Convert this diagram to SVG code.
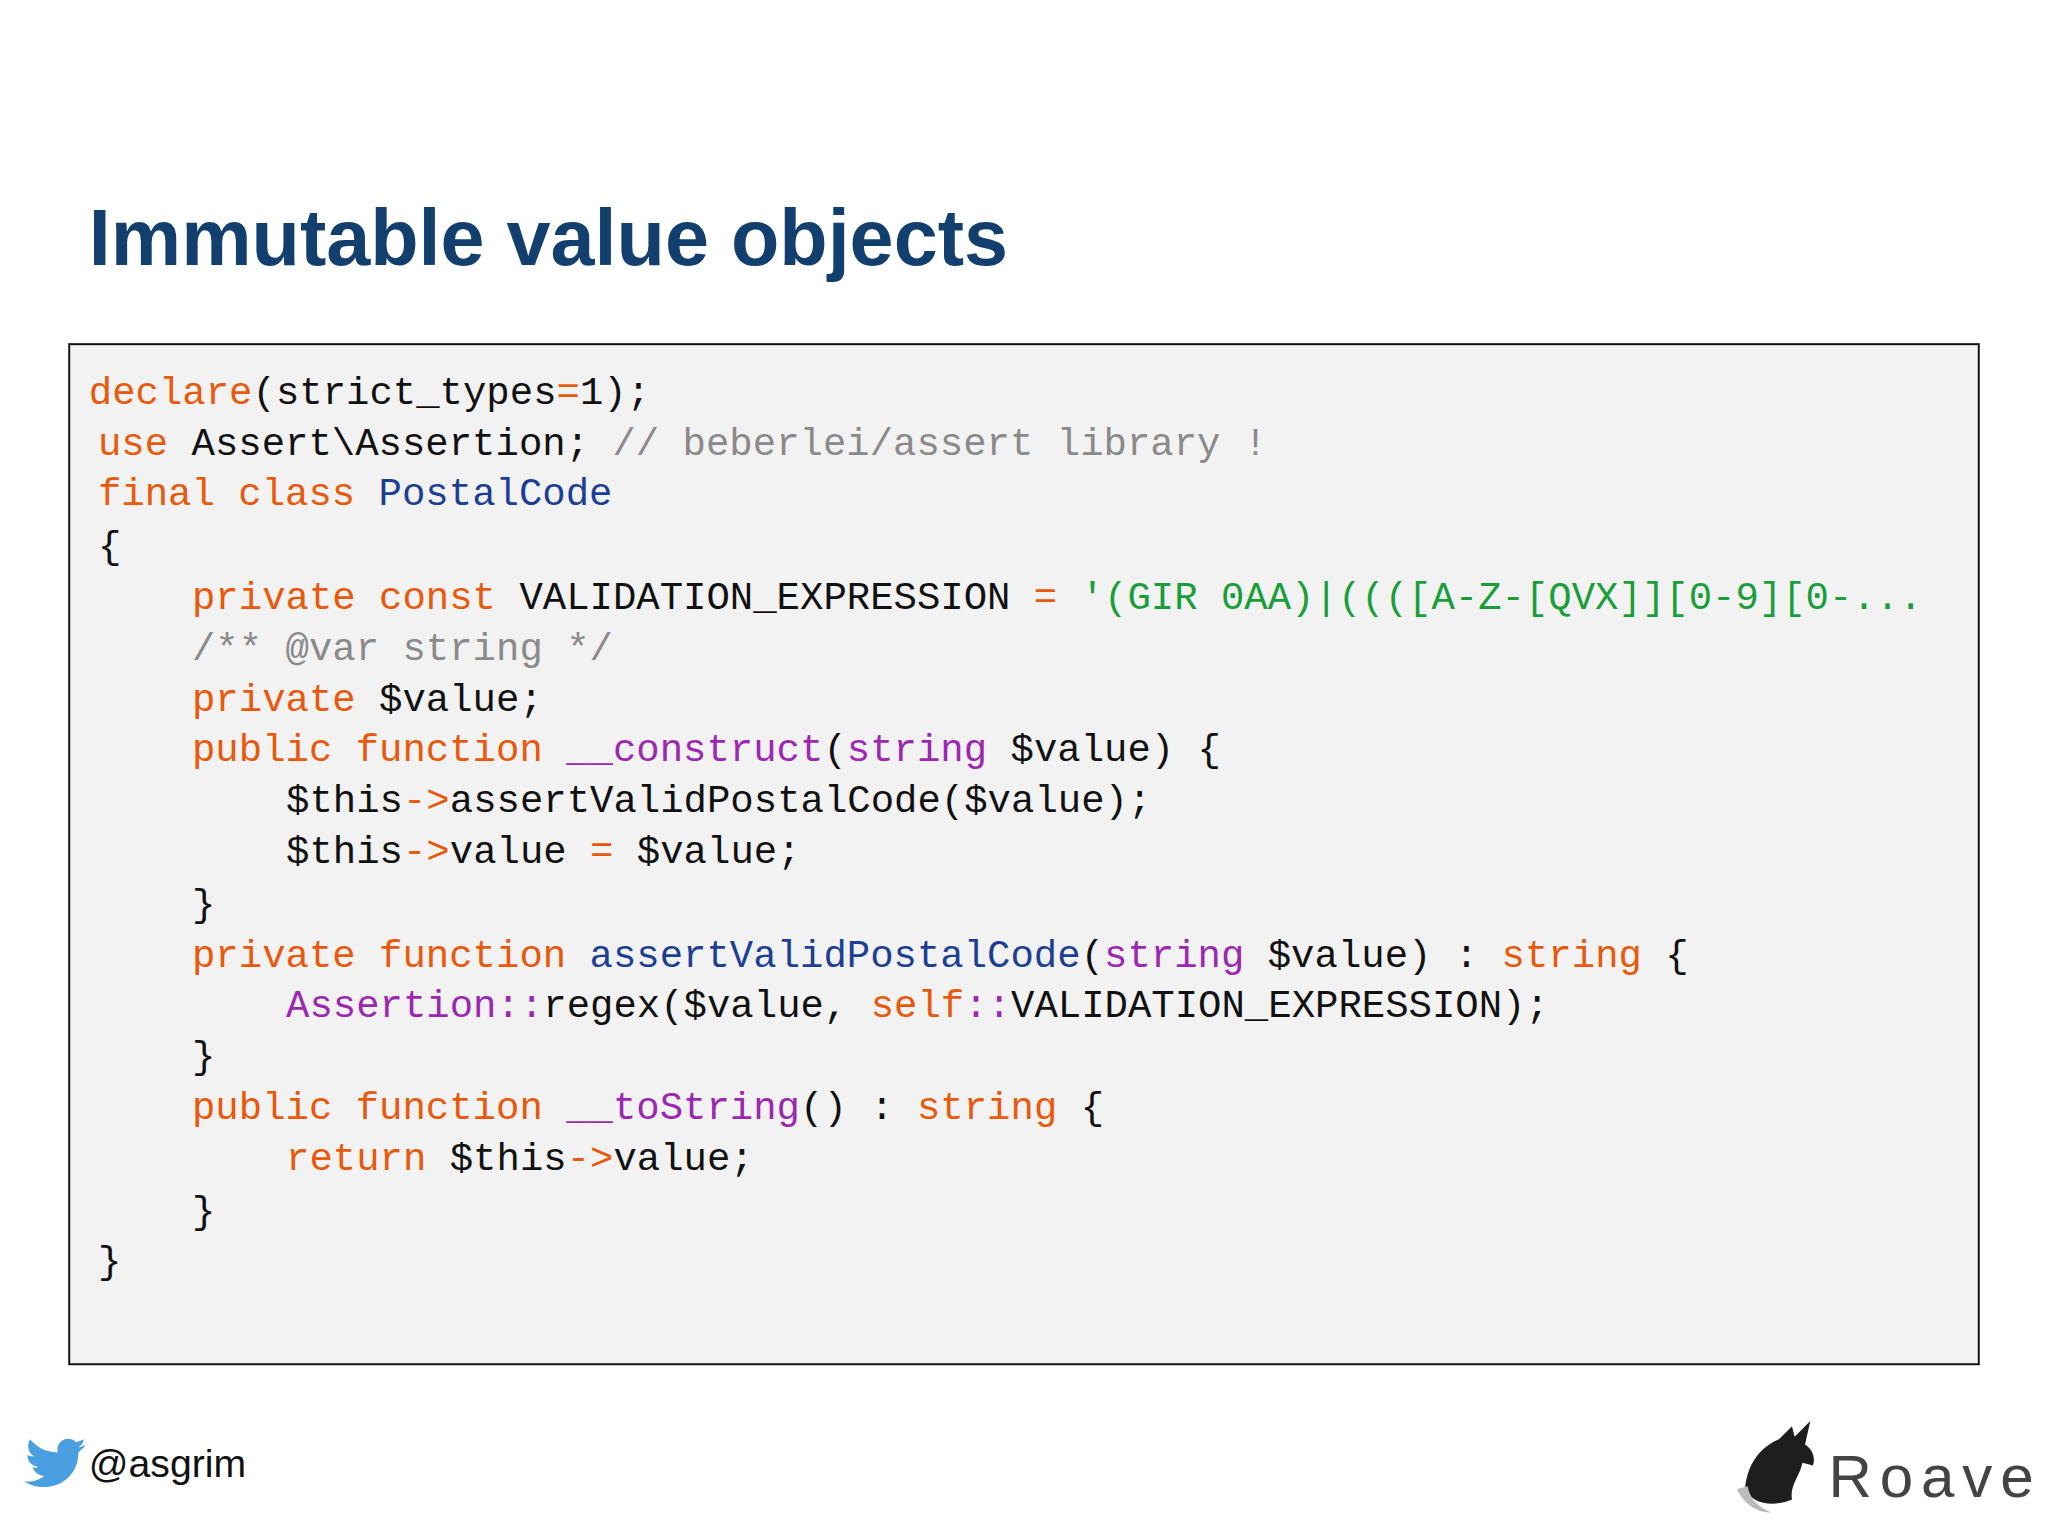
<svg xmlns="http://www.w3.org/2000/svg" width="2048" height="1536" viewBox="0 0 2048 1536">
<style>
.c{font-family:"Liberation Mono","DejaVu Sans Mono",monospace;font-size:29.85px;fill:#111;white-space:pre}
.k{fill:#e8590c}.p{fill:#9c27b0}.b{fill:#1c3f94}.g{fill:#1a9e3a}.m{fill:#8a8a8a}
</style>
<rect width="2048" height="1536" fill="#fff"/>
<g transform="scale(1.30612)">
<g id="title"><text x="68" y="203" font-family="Liberation Sans,Arial,sans-serif" font-weight="bold" font-size="60.6" fill="#123f6e">Immutable value objects</text></g>
<g id="code">
<rect x="53" y="263.5" width="1462" height="781" fill="#f2f2f2" stroke="#111" stroke-width="1.5"/>
<text class="c" x="68" y="309"><tspan class="k">declare</tspan>(strict_types<tspan class="k">=</tspan>1);</text>
<text class="c" x="75" y="348"><tspan class="k">use</tspan> Assert\Assertion; <tspan class="m">// beberlei/assert library !</tspan></text>
<text class="c" x="75" y="387"><tspan class="k">final class</tspan> <tspan class="b">PostalCode</tspan></text>
<text class="c" x="75" y="427">{</text>
<text class="c" x="147" y="466"><tspan class="k">private const</tspan> VALIDATION_EXPRESSION <tspan class="k">=</tspan> <tspan class="g">'(GIR 0AA)|((([A-Z-[QVX]][0-9][0-...</tspan></text>
<text class="c" x="147" y="505"><tspan class="m">/** @var string */</tspan></text>
<text class="c" x="147" y="544"><tspan class="k">private</tspan> $value;</text>
<text class="c" x="147" y="583"><tspan class="k">public function</tspan> <tspan class="p">__construct</tspan>(<tspan class="p">string</tspan> $value) {</text>
<text class="c" x="219" y="622">$this<tspan class="k">-&gt;</tspan>assertValidPostalCode($value);</text>
<text class="c" x="219" y="661">$this<tspan class="k">-&gt;</tspan>value <tspan class="k">=</tspan> $value;</text>
<text class="c" x="147" y="701">}</text>
<text class="c" x="147" y="740"><tspan class="k">private function</tspan> <tspan class="b">assertValidPostalCode</tspan>(<tspan class="p">string</tspan> $value) : <tspan class="k">string</tspan> {</text>
<text class="c" x="219" y="779"><tspan class="p">Assertion::</tspan>regex($value, <tspan class="k">self</tspan><tspan class="p">::</tspan>VALIDATION_EXPRESSION);</text>
<text class="c" x="147" y="818">}</text>
<text class="c" x="147" y="857"><tspan class="k">public function</tspan> <tspan class="p">__toString</tspan>() : <tspan class="k">string</tspan> {</text>
<text class="c" x="219" y="896"><tspan class="k">return</tspan> $this<tspan class="k">-&gt;</tspan>value;</text>
<text class="c" x="147" y="936">}</text>
<text class="c" x="75" y="975">}</text>
</g>
<g id="twitter">
<path d="M66 1106c-2 1-4 2-6 2 2-1 4-3 4-6-2 1-4 2-6 2-5-5-14-2-14 6v2c-9 0-16-4-21-10-3 5-1 11 3 13-2 0-3 0-5-1 0 5 3 8 8 9-1 1-3 1-4 0 1 4 5 7 9 7-4 3-10 5-16 4 18 11 42 1 42-22 2-2 4-3 5-5z" fill="#4a9fe0"/>
<text x="68" y="1131" font-family="Liberation Sans,Arial,sans-serif" font-size="30" fill="#111">@asgrim</text>
</g>
<g id="roave">
<path d="M1336 1140c2-20 12-32 26-38l10-10 2 8 12-12-4 18c6 4 8 10 6 16l-8-2c-2 10-10 18-8 28-14 6-30 4-36-8z" fill="#1e1e1e"/>
<path d="M1330 1140c4 10 14 18 26 18-10-4-16-10-18-20z" fill="#bbb"/>
<text x="1400" y="1146" font-family="Liberation Sans,Arial,sans-serif" font-size="46" letter-spacing="6" fill="#444">Roave</text>
</g>
</g>
</svg>
